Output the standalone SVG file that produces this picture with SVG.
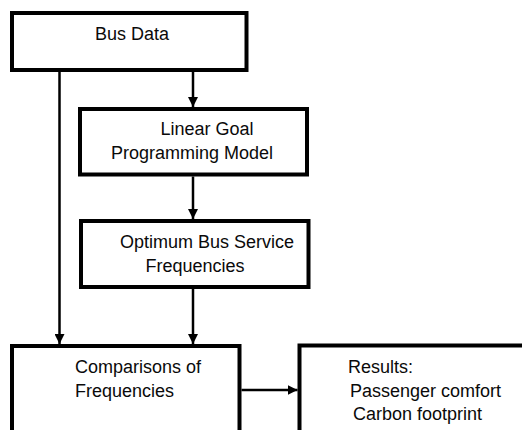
<svg xmlns="http://www.w3.org/2000/svg" width="522" height="430" viewBox="0 0 522 430">
  <style>
    .box { fill: #ffffff; stroke: #000000; stroke-width: 4; }
    .lbl { font-family: "Liberation Sans", Arial, sans-serif; font-size: 18px; fill: #0a0a0a; }
    .mid { text-anchor: middle; }
    .edge { fill: none; stroke: #000000; stroke-width: 2.5; }
  </style>
  <defs>
    <marker id="arrow" markerUnits="userSpaceOnUse" markerWidth="10" markerHeight="10" viewBox="0 0 10 10" refX="10" refY="5" orient="auto">
      <path d="M0,0 L10,5 L0,10 Z" fill="#000000"/>
    </marker>
  </defs>
  <rect width="522" height="430" fill="#ffffff"/>

  <g id="node-bus-data">
    <rect class="box" x="12" y="13" width="234.5" height="57"/>
    <text class="lbl mid" x="132" y="40">Bus Data</text>
  </g>

  <g id="node-linear-goal">
    <rect class="box" x="80" y="109" width="227" height="65.5"/>
    <text class="lbl mid" x="207" y="135">Linear Goal</text>
    <text class="lbl mid" x="192" y="159">Programming Model</text>
  </g>

  <g id="node-optimum">
    <rect class="box" x="81" y="221" width="227.5" height="66"/>
    <text class="lbl mid" x="207" y="248">Optimum Bus Service</text>
    <text class="lbl mid" x="195" y="272">Frequencies</text>
  </g>

  <g id="node-comparisons">
    <rect class="box" x="12" y="346" width="227.5" height="100"/>
    <text class="lbl" x="75" y="373">Comparisons of</text>
    <text class="lbl" x="75" y="397">Frequencies</text>
  </g>

  <g id="node-results">
    <rect class="box" x="299.5" y="345.5" width="240" height="100"/>
    <text class="lbl" x="348" y="373">Results:</text>
    <text class="lbl" x="350" y="397">Passenger comfort</text>
    <text class="lbl" x="353" y="420">Carbon footprint</text>
  </g>

  <g id="connectors">
    <line class="edge" x1="59.5" y1="72" x2="59.5" y2="344" marker-end="url(#arrow)"/>
    <line class="edge" x1="193" y1="72" x2="193" y2="107" marker-end="url(#arrow)"/>
    <line class="edge" x1="193" y1="176.5" x2="193" y2="219" marker-end="url(#arrow)"/>
    <line class="edge" x1="193" y1="289" x2="193" y2="344" marker-end="url(#arrow)"/>
    <line class="edge" x1="241.5" y1="390" x2="297.5" y2="390" marker-end="url(#arrow)"/>
  </g>
</svg>
